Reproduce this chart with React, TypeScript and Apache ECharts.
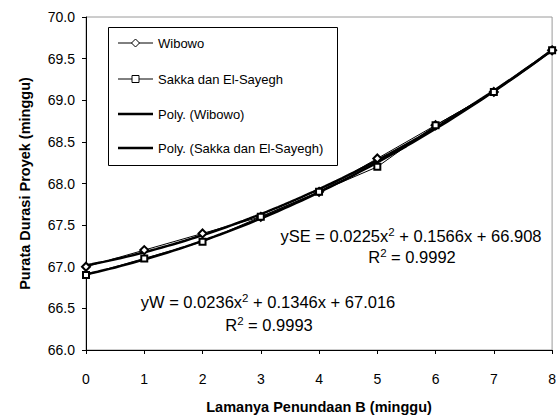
import React, { useEffect, useRef } from "react";
import * as echarts from "echarts";

// Observed project durations (weeks) for each delay length B (weeks)
const delayWeeks = [0, 1, 2, 3, 4, 5, 6, 7, 8];
const wibowo = [67.0, 67.2, 67.4, 67.6, 67.9, 68.3, 68.7, 69.1, 69.6];
const sakka = [66.9, 67.1, 67.3, 67.6, 67.9, 68.2, 68.7, 69.1, 69.6];

// Quadratic trend coefficients [a, b, c] for y = a x^2 + b x + c
const coefWibowo = [0.0236, 0.1346, 67.016];
const coefSakka = [0.0225, 0.1566, 66.908];

const seriesNames = [
  "Wibowo",
  "Sakka dan El-Sayegh",
  "Poly. (Wibowo)",
  "Poly. (Sakka dan El-Sayegh)",
];

const eqSakka = ["ySE = 0.0225x", "2", " + 0.1566x + 66.908"];
const r2Sakka = ["R", "2", " = 0.9992"];
const eqWibowo = ["yW = 0.0236x", "2", " + 0.1346x + 67.016"];
const r2Wibowo = ["R", "2", " = 0.9993"];

const FONT = "'Liberation Sans', Arial, sans-serif";

function trend(coef: number[]): number[][] {
  const pts: number[][] = [];
  for (let i = 0; i <= 80; i++) {
    const x = i / 10;
    pts.push([x, coef[0] * x * x + coef[1] * x + coef[2]]);
  }
  return pts;
}

// Rich text with a raised exponent: parts = [before, exponent, after]
function supText(parts: string[], x: number, y: number) {
  return {
    type: "text",
    x,
    y,
    z: 20,
    style: {
      text: `{n|${parts[0]}}{s|${parts[1]}}{n|${parts[2]}}`,
      fill: "#000",
      align: "center",
      verticalAlign: "middle",
      rich: {
        n: { fontFamily: FONT, fontSize: 16.5, lineHeight: 17, verticalAlign: "middle", fill: "#000" },
        s: {
          fontFamily: FONT,
          fontSize: 11.5,
          lineHeight: 12,
          verticalAlign: "middle",
          padding: [0, 0, 8, 0],
          fill: "#000",
        },
      },
    },
  };
}

// Legend drawn as a boxed key: thin lines with hollow markers, thick trend lines
function legendGraphic() {
  const left = 108;
  const top = 27;
  const w = 229;
  const h = 138;
  const rows = [43, 79, 114, 148];
  const x1 = 118;
  const x2 = 153;
  const mid = (x1 + x2) / 2;
  const els: any[] = [
    {
      type: "rect",
      shape: { x: left + 0.5, y: top + 0.5, width: w, height: h },
      style: { fill: "#fff", stroke: "#000", lineWidth: 1 },
      z: 10,
    },
  ];
  rows.forEach((cy, i) => {
    const thick = i >= 2;
    els.push({
      type: "line",
      shape: { x1, y1: cy, x2, y2: cy },
      style: { stroke: "#000", lineWidth: thick ? 2.5 : 1 },
      z: 11,
    });
    if (i === 0) {
      els.push({
        type: "polygon",
        shape: { points: [[mid, cy - 4], [mid + 4, cy], [mid, cy + 4], [mid - 4, cy]] },
        style: { fill: "#fff", stroke: "#000", lineWidth: 1 },
        z: 12,
      });
    } else if (i === 1) {
      els.push({
        type: "rect",
        shape: { x: mid - 3.5, y: cy - 3.5, width: 7, height: 7 },
        style: { fill: "#fff", stroke: "#000", lineWidth: 1 },
        z: 12,
      });
    }
    els.push({
      type: "text",
      x: x2 + 5,
      y: cy,
      z: 12,
      style: {
        text: seriesNames[i],
        fill: "#000",
        font: `13px ${FONT}`,
        textAlign: "left",
        textVerticalAlign: "middle",
      },
    });
  });
  return els;
}

export default function App() {
  const ref = useRef<HTMLDivElement>(null);

  useEffect(() => {
    if (!ref.current) return;
    const chart = echarts.init(ref.current, null, { renderer: "svg" });
    chart.setOption({
      animation: false,
      backgroundColor: "#ffffff",
      textStyle: { fontFamily: FONT },
      grid: {
        left: 86,
        right: 3,
        top: 17,
        bottom: 65,
        show: true,
        borderColor: "#9a9a9a",
        borderWidth: 1,
        backgroundColor: "transparent",
      },
      xAxis: {
        type: "value",
        min: 0,
        max: 8,
        interval: 1,
        name: "Lamanya Penundaan B (minggu)",
        nameLocation: "middle",
        nameGap: 49,
        nameTextStyle: { fontFamily: FONT, fontSize: 14.5, fontWeight: "bold", color: "#000" },
        axisLine: { lineStyle: { color: "#000", width: 1 } },
        axisTick: { inside: false, length: 4, lineStyle: { color: "#000" } },
        axisLabel: { fontFamily: FONT, fontSize: 14, color: "#000", margin: 22 },
        splitLine: { show: false },
      },
      yAxis: {
        type: "value",
        min: 66,
        max: 70,
        interval: 0.5,
        name: "Purata Durasi Proyek (minggu)",
        nameLocation: "middle",
        nameGap: 54,
        nameRotate: 90,
        nameTextStyle: { fontFamily: FONT, fontSize: 14.5, fontWeight: "bold", color: "#000" },
        axisLine: { show: true, lineStyle: { color: "#000", width: 1 } },
        axisTick: { show: true, inside: false, length: 4, lineStyle: { color: "#000" } },
        axisLabel: {
          fontFamily: FONT,
          fontSize: 14,
          color: "#000",
          margin: 11,
          formatter: (v: number) => v.toFixed(1),
        },
        splitLine: { show: false },
      },
      series: [
        {
          name: seriesNames[2],
          type: "line",
          data: trend(coefWibowo),
          symbol: "none",
          lineStyle: { color: "#000", width: 2.5 },
          z: 3,
        },
        {
          name: seriesNames[3],
          type: "line",
          data: trend(coefSakka),
          symbol: "none",
          lineStyle: { color: "#000", width: 2.5 },
          z: 3,
        },
        {
          name: seriesNames[0],
          type: "line",
          data: delayWeeks.map((x, i) => [x, wibowo[i]]),
          symbol: "emptyDiamond",
          symbolSize: 8,
          lineStyle: { color: "#000", width: 1 },
          itemStyle: { color: "#000", borderColor: "#000", borderWidth: 1 },
          z: 4,
        },
        {
          name: seriesNames[1],
          type: "line",
          data: delayWeeks.map((x, i) => [x, sakka[i]]),
          symbol: "emptyRect",
          symbolSize: 6,
          lineStyle: { color: "#000", width: 1 },
          itemStyle: { color: "#000", borderColor: "#000", borderWidth: 1 },
          z: 4,
        },
      ],
      graphic: [
        ...legendGraphic(),
        supText(eqSakka, 411, 236),
        supText(r2Sakka, 412, 257),
        supText(eqWibowo, 268, 302),
        supText(r2Wibowo, 269, 325),
      ],
    });
    return () => chart.dispose();
  }, []);

  return (
    <div
      ref={ref}
      style={{ position: "fixed", left: 0, top: 0, width: 559, height: 419 }}
    />
  );
}
